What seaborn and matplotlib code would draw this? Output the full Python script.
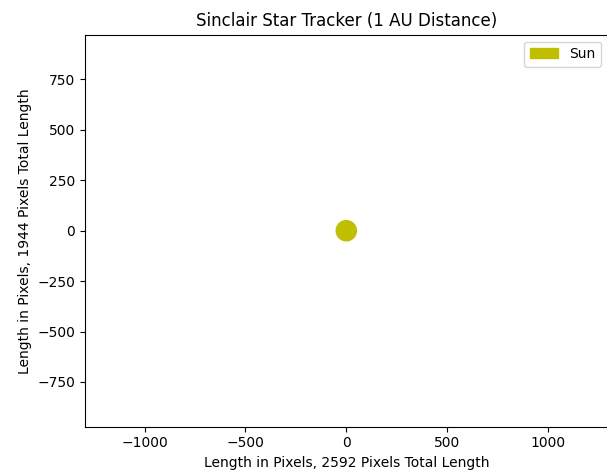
import matplotlib
matplotlib.use("Agg")
import matplotlib.pyplot as plt
from matplotlib.patches import Circle
import seaborn as sns

# Data
body_names = ["Sun"]
center_x = [0]
center_y = [0]
radius_px = [50]
body_colors = ["y"]
sensor_width = 2592
sensor_height = 1944

sns.set_style("white")
plt.rcParams["font.family"] = ["DejaVu Sans"]
plt.rcParams["font.size"] = 10
plt.rcParams["text.color"] = "black"
plt.rcParams["axes.labelcolor"] = "black"
plt.rcParams["xtick.color"] = "black"
plt.rcParams["ytick.color"] = "black"

fig = plt.figure(figsize=(6.07, 4.72), dpi=100)
W, H = 607, 472
ax = fig.add_axes([84.8 / W, (H - 426.7) / H, 523 / W, 392 / H])

for name, cx, cy, r, c in zip(body_names, center_x, center_y, radius_px, body_colors):
    ax.add_patch(Circle((cx, cy), r, color=c, label=name))

ax.set_xlim(-sensor_width / 2, sensor_width / 2)
ax.set_ylim(-sensor_height / 2, sensor_height / 2)
ax.set_aspect("equal", adjustable="box")
ax.set_xticks([-1000, -500, 0, 500, 1000])
ax.set_yticks([-750, -500, -250, 0, 250, 500, 750])
ax.tick_params(direction="out", length=3.5, width=0.8, colors="black", labelsize=10, bottom=True, left=True)
for s in ax.spines.values():
    s.set_color("black")
    s.set_linewidth(0.8)
ax.set_title("Sinclair Star Tracker (1 AU Distance)", fontsize=12, color="black")
ax.set_xlabel("Length in Pixels, 2592 Pixels Total Length", fontsize=10, color="black")
ax.set_ylabel("Length in Pixels, 1944 Pixels Total Length", fontsize=10, color="black")
leg = ax.legend(loc="upper right", frameon=True, fontsize=10)
for t in leg.get_texts():
    t.set_color("black")

fig.savefig("out.png", dpi=100)
